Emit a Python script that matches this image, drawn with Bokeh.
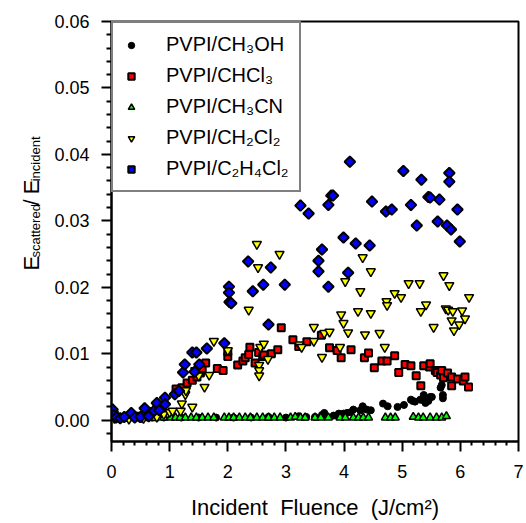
import math
from bokeh.plotting import figure
from bokeh.layouts import row
from bokeh.models import Range1d, FixedTicker, PrintfTickFormatter, Legend, LegendItem, Label
from bokeh.embed import file_html
from bokeh.resources import INLINE

# ---------------- data ----------------
series_names = ["PVPI/CH\u2083OH", "PVPI/CHCl\u2083", "PVPI/CH\u2083CN",
                "PVPI/CH\u2082Cl\u2082", "PVPI/C\u2082H\u2084Cl\u2082"]

meoh_x = [0.02, 0.10, 0.30, 0.50, 0.70, 0.90, 1.20, 1.50, 1.80, 2.10, 2.40, 2.70, 3.00,
          3.22, 3.35, 3.50, 3.62, 3.66, 3.82, 3.91, 3.99, 4.05, 4.11, 4.16, 4.28, 4.32,
          4.39, 4.46, 4.67, 4.75, 4.92, 5.03, 5.15, 5.18, 5.22, 5.31, 5.36, 5.37, 5.40,
          5.45, 5.48, 5.51, 5.66, 5.68, 5.70, 5.70]
meoh_y = [0.0005, 0.0003, 0.0003, 0.0002, 0.0004, 0.0004, 0.0004, 0.0004, 0.0004, 0.0004,
          0.0004, 0.0005, 0.0004, 0.0006, 0.0005, 0.0005, 0.0008, 0.0011, 0.0007, 0.0010,
          0.0010, 0.0011, 0.0012, 0.0016, 0.0015, 0.0021, 0.0016, 0.0015, 0.0025, 0.0021,
          0.0020, 0.0023, 0.0031, 0.0029, 0.0028, 0.0031, 0.0030, 0.0038, 0.0026, 0.0029,
          0.0035, 0.0035, 0.0049, 0.0053, 0.0038, 0.0033]

chcl3_x = [0.05, 0.25, 0.45, 0.64, 0.78, 1.11, 1.21, 1.30, 1.39, 1.47, 1.53, 1.56, 1.62,
           1.82, 1.92, 2.00, 2.00, 2.17, 2.26, 2.30, 2.36, 2.38, 2.47, 2.53, 2.60, 2.62,
           2.75, 2.86, 2.92, 3.12, 3.22, 3.36, 3.61, 3.75, 3.88, 3.95, 4.12, 4.35, 4.42,
           4.52, 4.65, 4.74, 4.87, 4.94, 5.05, 5.15, 5.24, 5.32, 5.37, 5.47, 5.48, 5.57,
           5.60, 5.66, 5.68, 5.71, 5.78, 5.85, 5.85, 5.95, 6.05, 6.08, 6.14]
chcl3_y = [0.0008, 0.0004, 0.0006, 0.0013, 0.0018, 0.0047, 0.0049, 0.0056, 0.0060, 0.0065,
           0.0071, 0.0078, 0.0086, 0.0078, 0.0075, 0.0096, 0.0103, 0.0083, 0.0089, 0.0094,
           0.0099, 0.0110, 0.0086, 0.0102, 0.0096, 0.0098, 0.0100, 0.0106, 0.0139, 0.0121,
           0.0111, 0.0118, 0.0128, 0.0109, 0.0105, 0.0094, 0.0106, 0.0094, 0.0101, 0.0079,
           0.0089, 0.0089, 0.0097, 0.0072, 0.0084, 0.0082, 0.0067, 0.0052, 0.0082, 0.0080,
           0.0085, 0.0075, 0.0072, 0.0068, 0.0075, 0.0064, 0.0071, 0.0065, 0.0052, 0.0062,
           0.0059, 0.0065, 0.0050]

ch3cn_x = [0.60, 0.75, 0.90, 1.02, 1.10, 1.18, 1.27, 1.37, 1.46, 1.56, 1.66, 1.76, 1.94,
           2.02, 2.10, 2.20, 2.30, 2.39, 2.50, 2.60, 2.70, 2.80, 2.90, 3.08, 3.16, 3.25,
           3.33, 3.50, 3.60, 3.73, 3.93, 4.02, 4.16, 4.25, 4.33, 4.42, 4.71, 4.80, 4.88,
           5.19, 5.28, 5.36, 5.48, 5.59, 5.68, 5.76]
ch3cn_y = [0.0003, 0.0003, 0.0004, 0.0004, 0.0004, 0.0004, 0.0004, 0.0004, 0.0004, 0.0004,
           0.0004, 0.0004, 0.0004, 0.0004, 0.0004, 0.0004, 0.0004, 0.0004, 0.0004, 0.0004,
           0.0004, 0.0004, 0.0004, 0.0004, 0.0005, 0.0004, 0.0004, 0.0004, 0.0004, 0.0004,
           0.0004, 0.0004, 0.0004, 0.0004, 0.0004, 0.0004, 0.0004, 0.0004, 0.0004, 0.0005,
           0.0004, 0.0004, 0.0004, 0.0004, 0.0004, 0.0006]

ch2cl2_x = [0.05, 0.30, 0.55, 0.78, 0.90, 1.00, 1.05, 1.19, 1.21, 1.27, 1.28, 1.39, 1.44,
            1.50, 1.60, 1.68, 1.76, 2.00, 2.36, 2.50, 2.52, 2.54, 2.54, 2.54, 2.56, 2.62,
            2.69, 2.89, 3.23, 3.27, 3.48, 3.48, 3.62, 3.66, 3.75, 3.93, 3.95, 3.99, 4.02,
            4.07, 4.24, 4.28, 4.32, 4.36, 4.46, 4.46, 4.61, 4.70, 4.73, 4.74, 4.87, 4.98,
            5.11, 5.30, 5.32, 5.41, 5.54, 5.71, 5.75, 5.79, 5.81, 5.85, 5.87, 5.89, 5.98,
            6.03, 6.08, 6.15]
ch2cl2_y = [0.0003, 0.0002, 0.0003, 0.0005, 0.0009, 0.0012, 0.0014, 0.0014, 0.0025, 0.0039,
            0.0045, 0.0020, 0.0075, 0.0067, 0.0050, 0.0068, 0.0119, 0.0105, 0.0166, 0.0265,
            0.0230, 0.0083, 0.0075, 0.0067, 0.0110, 0.0115, 0.0092, 0.0250, 0.0114, 0.0110,
            0.0140, 0.0119, 0.0095, 0.0131, 0.0133, 0.0110, 0.0159, 0.0146, 0.0209, 0.0132,
            0.0164, 0.0194, 0.0245, 0.0129, 0.0224, 0.0161, 0.0131, 0.0110, 0.0179, 0.0173,
            0.0191, 0.0185, 0.0206, 0.0206, 0.0164, 0.0174, 0.0140, 0.0218, 0.0168, 0.0166,
            0.0203, 0.0150, 0.0164, 0.0135, 0.0144, 0.0165, 0.0153, 0.0185]

c2h4cl2_x = [0.02, 0.04, 0.08, 0.15, 0.22, 0.34, 0.40, 0.50, 0.57, 0.64, 0.73, 0.78, 0.82,
             0.92, 0.92, 1.09, 1.16, 1.23, 1.26, 1.39, 1.43, 1.46, 1.51, 1.64, 1.94, 2.02,
             2.02, 2.03, 2.06, 2.35, 2.43, 2.61, 2.70, 2.74, 2.98, 3.25, 3.39, 3.56, 3.56,
             3.62, 3.73, 3.73, 3.78, 3.81, 3.99, 4.07, 4.10, 4.20, 4.44, 4.48, 4.72, 4.82,
             5.02, 5.15, 5.25, 5.33, 5.45, 5.48, 5.61, 5.64, 5.77, 5.81, 5.81, 5.84, 5.95,
             5.99]
c2h4cl2_y = [0.0016, 0.0008, 0.0004, 0.0003, 0.0005, 0.0011, 0.0004, 0.0005, 0.0018, 0.0006,
             0.0014, 0.0026, 0.0015, 0.0034, 0.0024, 0.0039, 0.0044, 0.0072, 0.0084, 0.0102,
             0.0073, 0.0102, 0.0084, 0.0108, 0.0116, 0.0201, 0.0192, 0.0178, 0.0176, 0.0239,
             0.0194, 0.0204, 0.0144, 0.0230, 0.0204, 0.0323, 0.0311, 0.0240, 0.0224, 0.0257,
             0.0324, 0.0201, 0.0338, 0.0338, 0.0275, 0.0222, 0.0389, 0.0266, 0.0263, 0.0329,
             0.0314, 0.0317, 0.0375, 0.0324, 0.0293, 0.0362, 0.0336, 0.0335, 0.0299, 0.0332,
             0.0293, 0.0372, 0.0359, 0.0287, 0.0317, 0.0269]

x_ticks = [0, 1, 2, 3, 4, 5, 6, 7]
x_minor_ticks = [0.2, 0.4, 0.6, 0.8, 1.2, 1.4, 1.6, 1.8, 2.2, 2.4, 2.6, 2.8, 3.2, 3.4, 3.6,
                 3.8, 4.2, 4.4, 4.6, 4.8, 5.2, 5.4, 5.6, 5.8, 6.2, 6.4, 6.6, 6.8]
y_ticks = [0.00, 0.01, 0.02, 0.03, 0.04, 0.05, 0.06]
y_minor_ticks = [-0.002, 0.002, 0.004, 0.006, 0.008, 0.012, 0.014, 0.016, 0.018, 0.022,
                 0.024, 0.026, 0.028, 0.032, 0.034, 0.036, 0.038, 0.042, 0.044, 0.046,
                 0.048, 0.052, 0.054, 0.056, 0.058]

x_label = "Incident\u00a0\u00a0Fluence\u00a0\u00a0(J/cm\u00b2)"
y_label_parts = ["E", "scattered", "/", "E", "incident"]

FONT = "Liberation Sans"
W, H = 526, 523
LEFT_W = 50

# ---------------- strip holding the y-axis title (pixel coordinates) ----------------
t = figure(width=LEFT_W, height=H, x_range=Range1d(0, LEFT_W), y_range=Range1d(0, H),
           output_backend="svg", toolbar_location=None,
           x_axis_location=None, y_axis_location=None,
           min_border=0, min_border_left=0, min_border_right=0,
           min_border_top=0, min_border_bottom=0)
t.grid.visible = False
t.outline_line_color = None
t.background_fill_color = "white"
t.border_fill_color = "white"
piece_style = [(31, 213, "22px"), (35, 229, "13px"), (31, 294, "22px"),
               (31, 308, "22px"), (35, 324, "13px")]
for txt, (px, py, fs) in zip(y_label_parts, piece_style):
    t.add_layout(Label(x=px, y=py, text=txt, angle=math.pi / 2,
                       text_font=FONT, text_font_size=fs, text_color="black",
                       text_align="left", text_baseline="alphabetic"))

# ---------------- main figure ----------------
p = figure(width=W - LEFT_W, height=H, x_range=Range1d(0, 7), y_range=Range1d(-0.0032, 0.06),
           output_backend="svg", toolbar_location=None,
           min_border_left=111 - LEFT_W, min_border_right=8, min_border_top=21,
           min_border_bottom=82)
p.grid.visible = False
p.outline_line_color = "black"
p.outline_line_width = 2
p.background_fill_color = "white"
p.border_fill_color = "white"

p.xaxis.ticker = FixedTicker(ticks=x_ticks, minor_ticks=x_minor_ticks)
p.yaxis.ticker = FixedTicker(ticks=y_ticks, minor_ticks=y_minor_ticks)
p.yaxis.formatter = PrintfTickFormatter(format="%.2f")

for ax in (p.xaxis, p.yaxis):
    ax.axis_line_width = 2
    ax.axis_line_color = "black"
    ax.major_tick_in = 0
    ax.major_tick_out = 10
    ax.minor_tick_in = 0
    ax.minor_tick_out = 5
    ax.major_tick_line_width = 2
    ax.minor_tick_line_width = 2
    ax.major_tick_line_color = "black"
    ax.minor_tick_line_color = "black"
    ax.major_label_text_font = FONT
    ax.major_label_text_font_size = "18px"
    ax.major_label_text_color = "black"

p.xaxis.minor_tick_out = 4
p.xaxis.major_label_standoff = 13
p.yaxis.major_label_standoff = 12

p.xaxis.axis_label = x_label
p.xaxis.axis_label_text_font = FONT
p.xaxis.axis_label_text_font_size = "22px"
p.xaxis.axis_label_text_font_style = "normal"
p.xaxis.axis_label_text_color = "black"
p.xaxis.axis_label_standoff = 14

# ---------------- data marks ----------------
r1 = p.scatter(meoh_x, meoh_y, marker="circle", size=7, fill_color="black",
               line_color="black", line_width=1)
r2 = p.scatter(chcl3_x, chcl3_y, marker="square", size=7, fill_color="#ff0000",
               line_color="black", line_width=2)
r3 = p.scatter(ch3cn_x, ch3cn_y, marker="triangle", size=8, fill_color="#00ff00",
               line_color="black", line_width=1.5)
r4 = p.scatter(ch2cl2_x, ch2cl2_y, marker="inverted_triangle", size=9, fill_color="#ffff00",
               line_color="black", line_width=1.5)
r5 = p.scatter(c2h4cl2_x, c2h4cl2_y, marker="square", angle=math.pi / 4, size=7.5,
               fill_color="#0000ff", line_color="black", line_width=2)

legend = Legend(items=[LegendItem(label=n, renderers=[r]) for n, r in
                       zip(series_names, [r1, r2, r3, r4, r5])],
                location="top_left", margin=0, padding=10, spacing=8,
                glyph_width=16, glyph_height=20, label_height=20, label_standoff=27,
                label_text_font=FONT, label_text_font_size="20px", label_text_color="black",
                border_line_color="black", border_line_width=2,
                background_fill_color="white", background_fill_alpha=1.0)
p.add_layout(legend)

layout = row(t, p, spacing=0)
open("out.html", "w").write(file_html(layout, INLINE))
